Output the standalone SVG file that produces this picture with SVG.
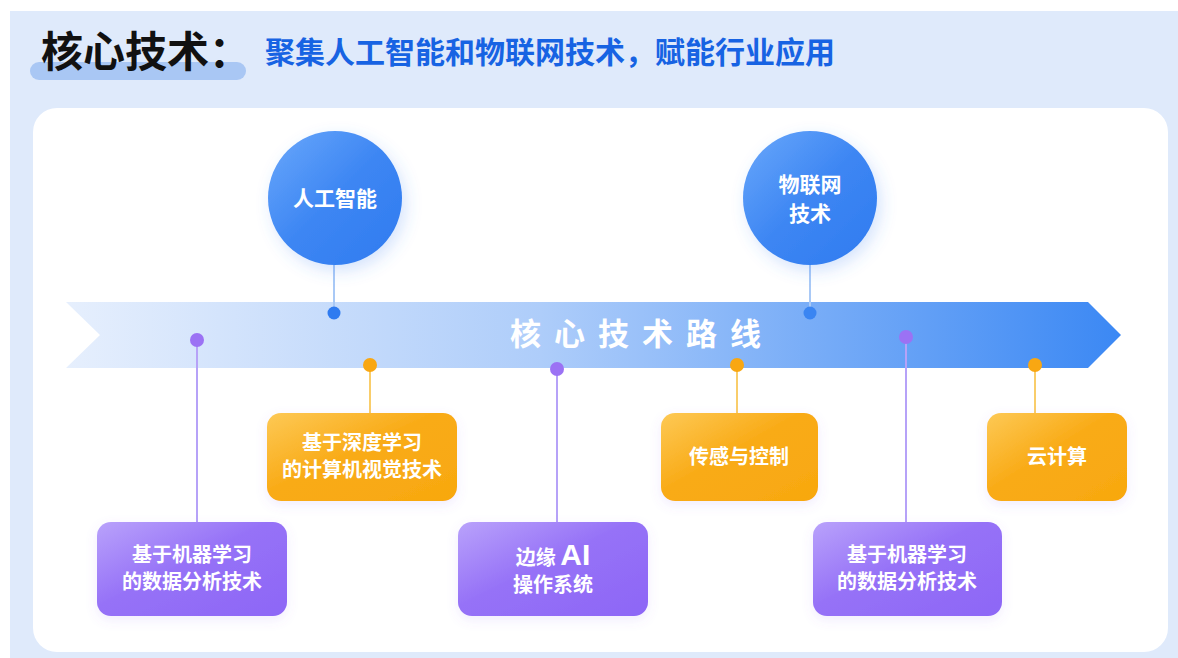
<svg xmlns="http://www.w3.org/2000/svg" width="1178" height="658" viewBox="0 0 1178 658">
<defs>
<linearGradient id="gArrow" x1="0" y1="0" x2="1" y2="0">
<stop offset="0" stop-color="#e6effd"/>
<stop offset="0.45" stop-color="#aecdfa"/>
<stop offset="1" stop-color="#3b88f4"/>
</linearGradient>
<linearGradient id="gCircle" x1="0" y1="0" x2="1" y2="1">
<stop offset="0" stop-color="#6aa8fb"/>
<stop offset="0.5" stop-color="#3d86f3"/>
<stop offset="1" stop-color="#2f7bf0"/>
</linearGradient>
<linearGradient id="gOrange" x1="0" y1="0" x2="1" y2="1">
<stop offset="0" stop-color="#fdc956"/>
<stop offset="0.45" stop-color="#f9ab17"/>
<stop offset="1" stop-color="#f8a80f"/>
</linearGradient>
<linearGradient id="gPurple" x1="0" y1="0" x2="1" y2="1">
<stop offset="0" stop-color="#b9a2fb"/>
<stop offset="0.45" stop-color="#9672f7"/>
<stop offset="1" stop-color="#8d66f6"/>
</linearGradient>
<filter id="shadow" x="-30%" y="-30%" width="160%" height="160%">
<feDropShadow dx="4" dy="6" stdDeviation="8" flood-color="#3d86f3" flood-opacity="0.22"/>
</filter>
<filter id="shadowBox" x="-20%" y="-20%" width="140%" height="150%">
<feDropShadow dx="0" dy="4" stdDeviation="6" flood-color="#8866f0" flood-opacity="0.12"/>
</filter>
</defs>
<style>
.cjk{font-family:"Noto Sans CJK SC","Noto Sans",sans-serif;font-weight:700}
.node-text{fill:#ffffff;font-size:20px;text-anchor:middle}
.circle-text{fill:#ffffff;font-size:21px;text-anchor:middle}
.lineP{stroke:#b6a2f8;stroke-width:2;fill:none}
.lineO{stroke:#f9cd6a;stroke-width:2;fill:none}
.lineB{stroke:#a9c9f6;stroke-width:2;fill:none}
</style>
<rect x="0" y="0" width="1178" height="658" fill="#ffffff"/>
<rect x="10" y="11" width="1168" height="647" fill="#dfeafb"/>
<g id="title">
<rect x="30" y="62" width="216" height="18" rx="9" fill="#a9c7f4"/>
<text x="41" y="67" class="cjk" font-size="42" font-weight="900" fill="#111111">核心技术：</text>
<text x="265" y="63" class="cjk" font-size="30" fill="#1763e3">聚集人工智能和物联网技术，赋能行业应用</text>
</g>
<rect x="33" y="108" width="1135" height="544" rx="24" fill="#ffffff"/>
<g id="route">
<polygon points="66,302 1088,302 1121,335 1088,368 66,368 100,335" fill="url(#gArrow)"/>
<text x="642" y="345" class="cjk" font-size="31" fill="#ffffff" text-anchor="middle" letter-spacing="13">核心技术路线</text>
</g>
<g id="connectors">
<line class="lineB" x1="334" y1="264" x2="334" y2="312"/>
<line class="lineB" x1="810" y1="264" x2="810" y2="312"/>
<line class="lineP" x1="197" y1="340" x2="197" y2="523"/>
<line class="lineO" x1="370" y1="365" x2="370" y2="414"/>
<line class="lineP" x1="557" y1="369" x2="557" y2="523"/>
<line class="lineO" x1="737" y1="365" x2="737" y2="414"/>
<line class="lineP" x1="906" y1="337" x2="906" y2="523"/>
<line class="lineO" x1="1035" y1="365" x2="1035" y2="414"/>
<circle cx="334" cy="313" r="6.5" fill="#2f7bf0"/>
<circle cx="810" cy="313" r="6.5" fill="#3a85f2"/>
<circle cx="197" cy="340" r="7" fill="#9b72f4"/>
<circle cx="370" cy="365" r="7" fill="#f9a712"/>
<circle cx="557" cy="369" r="7" fill="#9b72f4"/>
<circle cx="737" cy="365" r="7" fill="#f9a712"/>
<circle cx="906" cy="337" r="7" fill="#9b72f4"/>
<circle cx="1035" cy="365" r="7" fill="#f9a712"/>
</g>
<g id="ai">
<circle cx="335" cy="198" r="67" fill="url(#gCircle)" filter="url(#shadow)"/>
<text x="335" y="206" class="cjk circle-text" font-size="22">人工智能</text>
</g>
<g id="iot">
<circle cx="810" cy="198" r="67" fill="url(#gCircle)" filter="url(#shadow)"/>
<text x="810" y="192" class="cjk circle-text">物联网</text>
<text x="810" y="221" class="cjk circle-text">技术</text>
</g>
<g id="ml1">
<rect x="97" y="522" width="190" height="94" rx="14" fill="url(#gPurple)" filter="url(#shadowBox)"/>
<text x="192" y="562" class="cjk node-text">基于机器学习</text>
<text x="192" y="589" class="cjk node-text">的数据分析技术</text>
</g>
<g id="cv">
<rect x="267" y="413" width="190" height="88" rx="14" fill="url(#gOrange)" filter="url(#shadowBox)"/>
<text x="362" y="450" class="cjk node-text">基于深度学习</text>
<text x="362" y="477" class="cjk node-text">的计算机视觉技术</text>
</g>
<g id="edge">
<rect x="458" y="522" width="190" height="94" rx="14" fill="url(#gPurple)" filter="url(#shadowBox)"/>
<text x="553" y="565" class="cjk node-text">边缘 <tspan font-size="30" font-family="Liberation Sans, sans-serif">AI</tspan></text>
<text x="553" y="592" class="cjk node-text">操作系统</text>
</g>
<g id="sensor">
<rect x="661" y="413" width="157" height="88" rx="14" fill="url(#gOrange)" filter="url(#shadowBox)"/>
<text x="739" y="464" class="cjk node-text">传感与控制</text>
</g>
<g id="ml2">
<rect x="813" y="522" width="189" height="94" rx="14" fill="url(#gPurple)" filter="url(#shadowBox)"/>
<text x="907" y="562" class="cjk node-text">基于机器学习</text>
<text x="907" y="589" class="cjk node-text">的数据分析技术</text>
</g>
<g id="cloud">
<rect x="987" y="413" width="140" height="88" rx="14" fill="url(#gOrange)" filter="url(#shadowBox)"/>
<text x="1057" y="464" class="cjk node-text">云计算</text>
</g>
</svg>
